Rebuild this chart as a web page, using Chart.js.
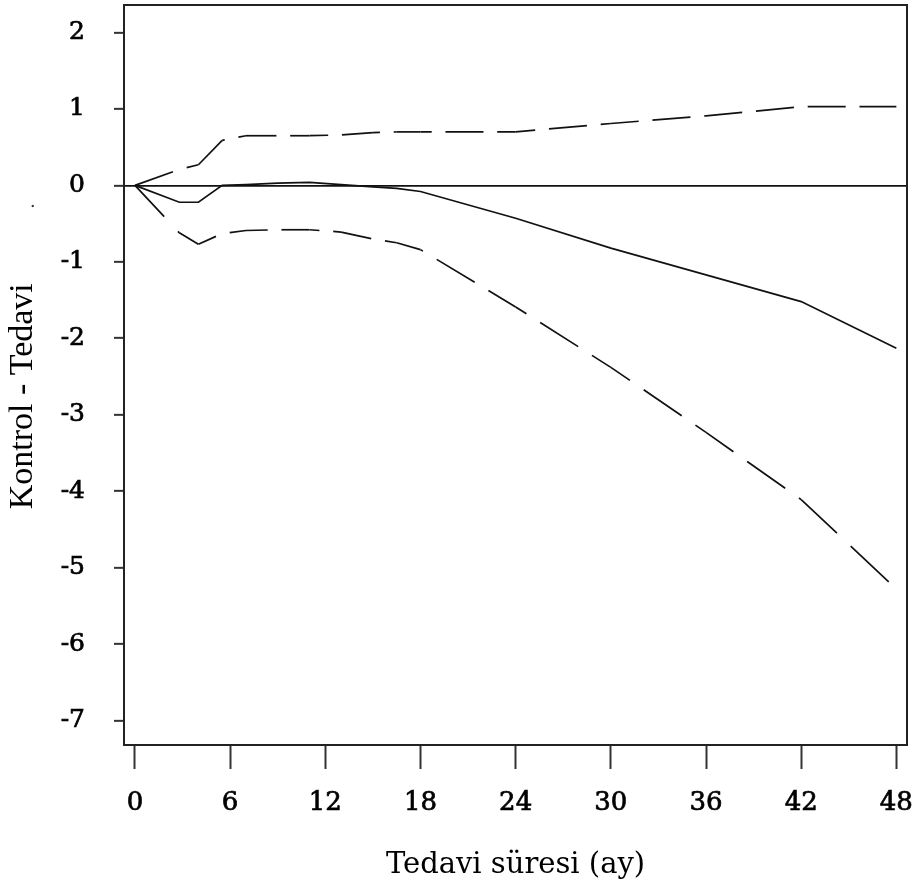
<!DOCTYPE html>
<html><head><meta charset="utf-8">
<script src="https://cdn.jsdelivr.net/npm/chart.js@4"></script>
<style>html,body{margin:0;padding:0;background:#fff;} canvas{display:block;}</style>
</head><body>
<canvas id="c" width="912" height="893"></canvas>
<script>
// Treatment duration (months)
const months = [0, 2.8, 4, 5.5, 7, 9, 11, 13, 15, 16.5, 18, 24, 30, 36, 42, 48];
// Kontrol - Tedavi difference (solid)
const difference = [0, -0.22, -0.22, 0.0, 0.01, 0.03, 0.04, 0.01, -0.02, -0.04, -0.08, -0.43, -0.82, -1.17, -1.52, -2.13];
// Upper confidence limit (dashed)
const upperLimit = [0, 0.21, 0.27, 0.59, 0.65, 0.65, 0.65, 0.66, 0.69, 0.70, 0.70, 0.70, 0.81, 0.91, 1.03, 1.03];
// Lower confidence limit (dashed)
const lowerLimit = [0, -0.62, -0.77, -0.63, -0.59, -0.58, -0.58, -0.61, -0.70, -0.75, -0.84, -1.59, -2.38, -3.23, -4.11, -5.28];
const xTicks = [0, 6, 12, 18, 24, 30, 36, 42, 48];
const yTicks = [-7, -6, -5, -4, -3, -2, -1, 0, 1, 2];
const xTitle = 'Tedavi süresi (ay)';
const yTitle = 'Kontrol - Tedavi' + '\u00A0\u00A0\u00A0\u00A0\u00A0';

const toPts = ys => months.map((m, i) => ({x: m, y: ys[i]}));

// dash pattern measured along the x direction
const DASH = 38, GAP = 13.75, PERIOD = DASH + GAP;
function xDash(phase) {
  const sf = c => { const dx = c.p1.x - c.p0.x, dy = c.p1.y - c.p0.y; return dx > 0 ? Math.hypot(dx, dy) / dx : 1; };
  return {
    borderDash: c => { const s = sf(c); return [DASH * s, GAP * s]; },
    borderDashOffset: c => {
      const s = sf(c);
      const x0 = c.chart.scales.x.getPixelForValue(months[0]);
      const d = (((c.p0.x - x0 + phase) % PERIOD) + PERIOD) % PERIOD;
      return d * s;
    }
  };
}

const framePlugin = {
  id: 'frame',
  afterDraw(chart) {
    const {ctx, chartArea: a} = chart;
    ctx.save();
    ctx.strokeStyle = '#222';
    ctx.lineWidth = 2;
    ctx.strokeRect(a.left, a.top, a.right - a.left, a.bottom - a.top);
    ctx.fillStyle = '#333';
    ctx.font = '20px "Liberation Serif"';
    ctx.translate(34, 206);
    ctx.rotate(-Math.PI / 2);
    ctx.textAlign = 'center';
    ctx.fillText('.', 0, 0);
    ctx.restore();
  }
};

const lineCommon = {borderColor: '#111', borderWidth: 1.7, pointRadius: 0, tension: 0, fill: false};

new Chart(document.getElementById('c'), {
  type: 'line',
  data: {
    datasets: [
      Object.assign({label: 'Fark', data: toPts(difference)}, lineCommon),
      Object.assign({label: 'Üst sınır', data: toPts(upperLimit), segment: xDash(0)}, lineCommon),
      Object.assign({label: 'Alt sınır', data: toPts(lowerLimit), segment: xDash(8.75)}, lineCommon)
    ]
  },
  options: {
    responsive: false,
    devicePixelRatio: 1,
    animation: false,
    layout: {padding: {top: 5, right: 5, left: 0, bottom: 0}},
    plugins: {legend: {display: false}, tooltip: {enabled: false}},
    scales: {
      x: {
        type: 'linear',
        min: -0.69, max: 48.67,
        afterBuildTicks: s => { s.ticks = xTicks.map(v => ({value: v})); },
        afterFit: s => { s.height = 148; s.paddingLeft = 0; s.paddingRight = 0; },
        border: {display: false},
        grid: {drawOnChartArea: false, drawTicks: true, tickLength: 24, tickColor: '#333', tickWidth: 2},
        ticks: {color: '#000', padding: 19, maxRotation: 0, autoSkip: false,
          textStrokeColor: '#000', textStrokeWidth: 0.7,
          font: {family: '"DejaVu Serif"', size: 26}},
        title: {display: true, text: xTitle, color: '#000',
          font: {family: '"DejaVu Serif"', size: 29}, padding: {top: 0, bottom: 10}}
      },
      y: {
        type: 'linear',
        min: -7.32, max: 2.36,
        afterBuildTicks: s => { s.ticks = yTicks.map(v => ({value: v})); },
        afterFit: s => { s.width = 124; s.paddingTop = 0; s.paddingBottom = 0; },
        border: {display: false},
        grid: {
          drawOnChartArea: true, drawTicks: true, tickLength: 10, tickColor: '#333', tickWidth: 2,
          color: c => (c.tick && c.tick.value === 0) ? '#111' : 'rgba(0,0,0,0)',
          lineWidth: 1.7
        },
        ticks: {color: '#000', padding: 29, autoSkip: false,
          textStrokeColor: '#000', textStrokeWidth: 0.7,
          font: {family: '"DejaVu Serif"', size: 25}},
        title: {display: true, text: yTitle, color: '#000',
          font: {family: '"Liberation Serif"', size: 34}, padding: {top: 3, bottom: 0}}
      }
    }
  },
  plugins: [framePlugin]
});
</script>
</body></html>
